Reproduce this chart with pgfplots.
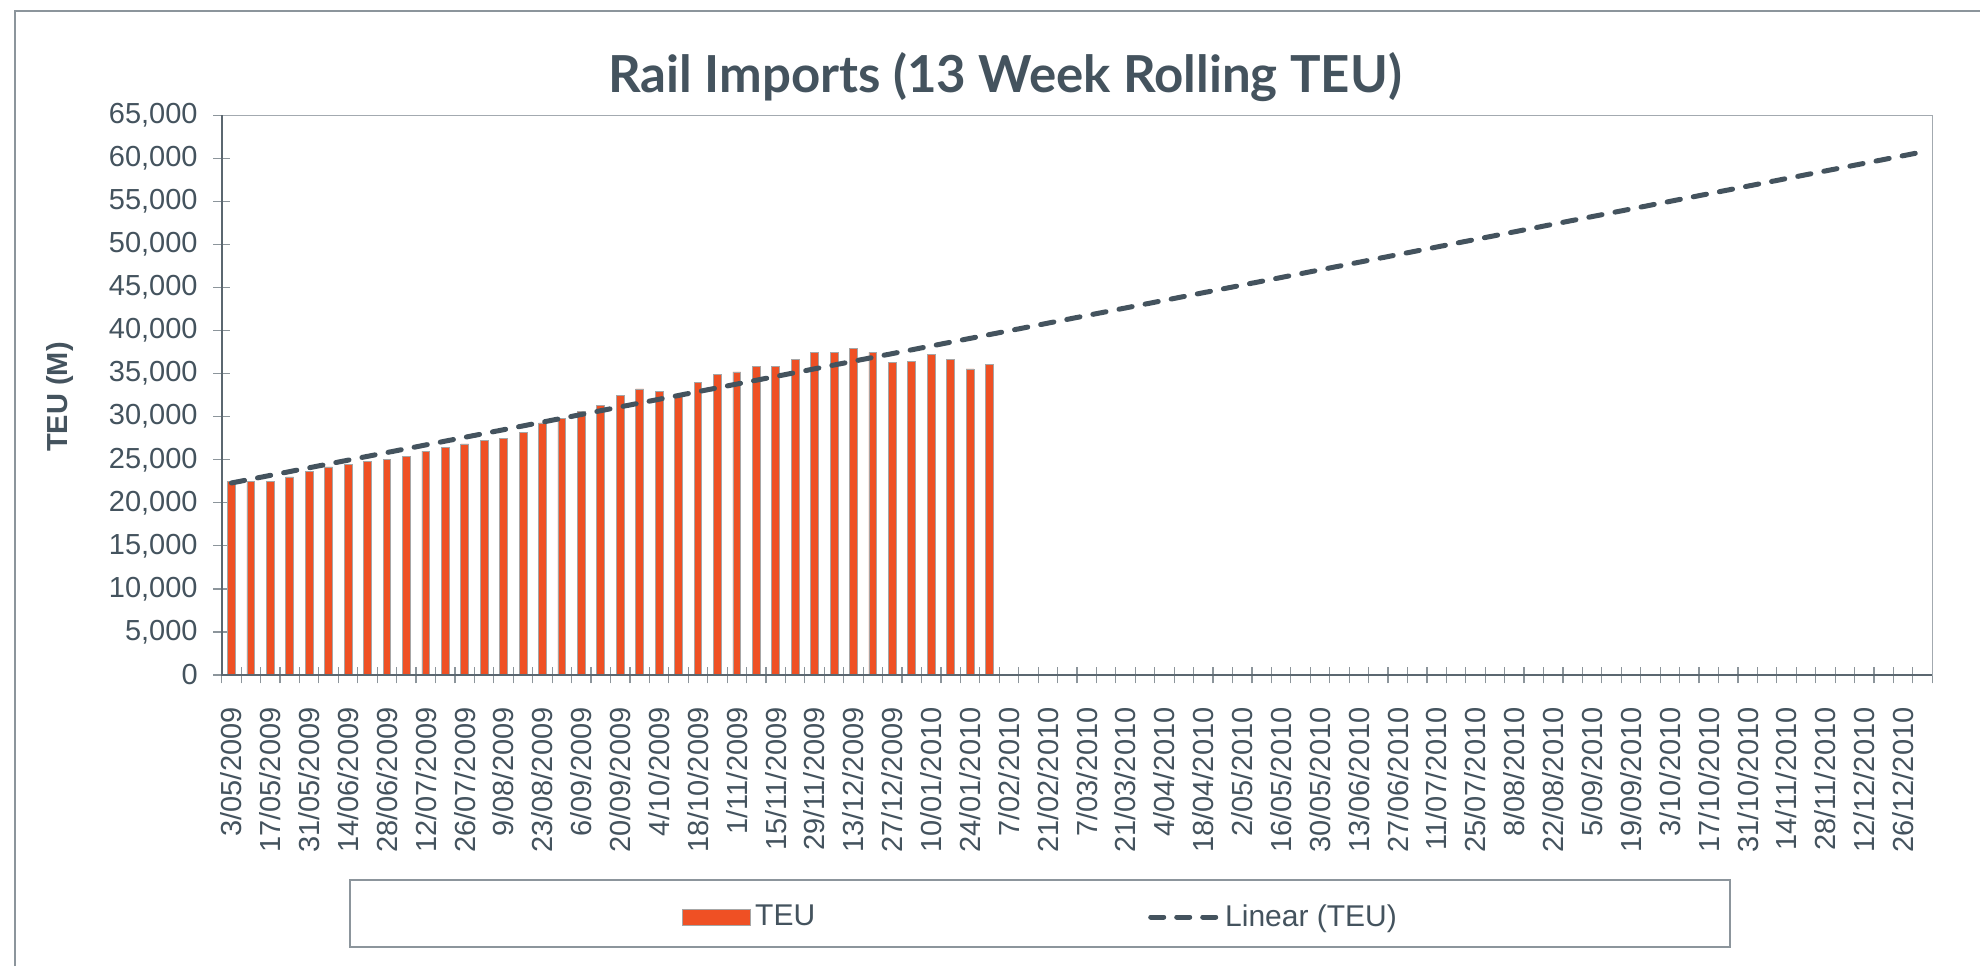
\documentclass[border=0pt]{standalone}
\usepackage{pgfplots}
\pgfplotsset{compat=1.18}
\usepackage{fontspec}
\setmainfont{Liberation Sans}
\newfontfamily\titlefont{Lato}
\definecolor{txt}{HTML}{44535E}
\definecolor{barc}{HTML}{EF5024}
\definecolor{trend}{HTML}{44535E}
\definecolor{framec}{HTML}{8C959C}
\definecolor{axisc}{HTML}{5B6770}
\begin{document}
\begin{tikzpicture}
\useasboundingbox (0,0) rectangle (990pt,483pt);
\fill[white] (0,0) rectangle (990pt,483pt);
\draw[framec, line width=1pt] (7.5pt,0) -- (7.5pt,477.5pt) -- (990pt,477.5pt);
\node[anchor=base, text=txt, font=\titlefont\bfseries\fontsize{25.5}{30}\selectfont] at (502.5pt,436.5pt) {Rail Imports (13 Week Rolling TEU)};
\node[rotate=90, text=txt, font=\bfseries\fontsize{14.5}{17}\selectfont] at (30pt,284.5pt) {TEU (M)};
\draw[framec, line width=0.8pt] (175pt,9.5pt) rectangle (865pt,43pt);
\begin{axis}[
  at={(110.85pt,145.5pt)}, anchor=south west,
  scale only axis, width=855.3pt, height=279.85pt,
  xmin=-0.5, xmax=87.5, ymin=0, ymax=65000,
  clip=false,
  axis line style={draw=framec!80, line width=0.8pt},
  xtick={0,2,...,86},
  xticklabels={3/05/2009,17/05/2009,31/05/2009,14/06/2009,28/06/2009,12/07/2009,26/07/2009,9/08/2009,23/08/2009,6/09/2009,20/09/2009,4/10/2009,18/10/2009,1/11/2009,15/11/2009,29/11/2009,13/12/2009,27/12/2009,10/01/2010,24/01/2010,7/02/2010,21/02/2010,7/03/2010,21/03/2010,4/04/2010,18/04/2010,2/05/2010,16/05/2010,30/05/2010,13/06/2010,27/06/2010,11/07/2010,25/07/2010,8/08/2010,22/08/2010,5/09/2010,19/09/2010,3/10/2010,17/10/2010,31/10/2010,14/11/2010,28/11/2010,12/12/2010,26/12/2010},
  minor xtick={-0.5,0.5,...,87.5},
  ytick={0,5000,...,65000},
  minor ytick={0,5000,...,65000},
  major tick length=0pt,
  minor tick length=8.3pt,
  tick align=center,
  xtick pos=bottom, ytick pos=left,
  minor tick style={draw=axisc!70, line width=0.6pt},
  scaled y ticks=false,
  /pgf/number format/.cd, 1000 sep={,}, assume math mode=true,
  /pgfplots/.cd,
  tick label style={text=txt, font=\fontsize{14.5}{17}\selectfont},
  xticklabel style={rotate=90, anchor=east, xshift=-12.7pt},
  yticklabel style={xshift=-8.5pt},
  legend style={at={(0.2656,-0.4324)}, anchor=west, draw=none, fill=none,
    font=\fontsize{15}{18}\selectfont, text=txt,
    /tikz/every even column/.append style={column sep=164.5pt}},
  legend columns=2,
]
\addplot[ybar, bar width=3.9pt, fill=barc, draw=gray!70, line width=0.4pt,
  legend image code/.code={\draw[fill=barc, draw=gray!70, line width=0.4pt] (0pt,-4pt) rectangle (34pt,4pt);}]
  coordinates {
(0,22450) (1,22530) (2,22530) (3,23000) (4,23690) (5,24160) (6,24500) (7,24850) (8,25000) (9,25350)
(10,26010) (11,26440) (12,26830) (13,27260) (14,27490) (15,28220) (16,29270) (17,29810) (18,30620) (19,31340)
(20,32440) (21,33220) (22,32980) (23,32300) (24,33950) (25,34880) (26,35190) (27,35810) (28,35810) (29,36660)
(30,37440) (31,37480) (32,37900) (33,37480) (34,36310) (35,36390) (36,37280) (37,36660) (38,35540) (39,36040)
  };
\addlegendentry{TEU}
\addplot[trend, line width=2.5pt, line cap=round, dash pattern=on 6.7pt off 6.6pt,
  legend image code/.code={\draw[trend, line width=2.5pt, line cap=round, dash pattern=on 6.5pt off 6.5pt] (1pt,0pt) -- (35pt,0pt);}]
  coordinates {(0,22300) (87,60750)};
\addlegendentry{Linear (TEU)}
\draw[axisc, line width=1pt] (rel axis cs:0,1) -- (rel axis cs:0,0) -- (rel axis cs:1,0);
\end{axis}
\end{tikzpicture}
\end{document}
